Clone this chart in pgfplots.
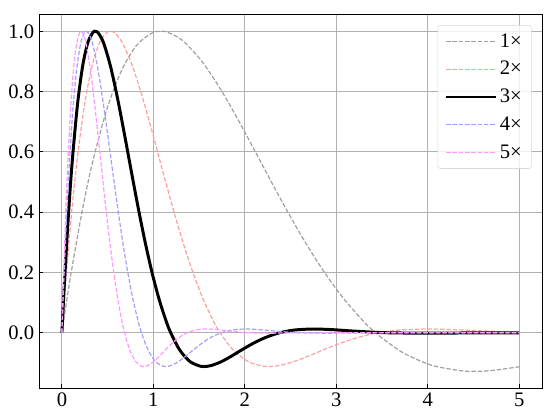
\documentclass[border=0pt]{standalone}
\usepackage{fontspec}
\setmainfont{Liberation Serif}
\usepackage{pgfplots}
\pgfplotsset{compat=1.18}
\definecolor{cgray}{HTML}{A0A0A0}
\definecolor{cred}{HTML}{FFA0A0}
\definecolor{cblue}{HTML}{A0A0FF}
\definecolor{cmag}{HTML}{FF99FF}
\definecolor{gridc}{HTML}{B0B0B0}
\begin{document}
\begin{tikzpicture}
\begin{axis}[
  name=ax, scale only axis, width=365.8pt, height=272pt,
  xmin=-0.25, xmax=5.25, ymin=-0.1842, ymax=1.0564,
  xtick={0,1,2,3,4,5}, ytick={0,0.2,0.4,0.6,0.8,1.0},
  yticklabel style={/pgf/number format/.cd, fixed, fixed zerofill, precision=1},
  /pgf/number format/assume math mode=true,
  tick align=inside, tick pos=left, major tick length=3pt,
  tick style={black, line width=0.6pt},
  grid=major, grid style={gridc, line width=0.6pt},
  axis line style={line width=0.6pt},
  ticklabel style={font=\fontsize{15}{17}\selectfont},
  legend cell align=left,
  legend style={at={(1,1)}, xshift=-7.5pt, yshift=-7.8pt, anchor=north east,
    draw=black!15, rounded corners=2pt, fill=white, fill opacity=0.8, text opacity=1,
    font=\fontsize{15}{17}\selectfont, row sep=4.8pt, inner xsep=5pt, inner ysep=4pt},
  legend image code/.code={\draw[#1] (0pt,0pt) -- (29pt,0pt); \path (0pt,0pt) -- (36pt,0pt);},
  every axis plot/.append style={smooth, tension=0.5},
]
\addplot[cgray, line width=0.87pt, dash pattern=on 3.2pt off 1.4pt] coordinates {
(0,0) (0.0546,0.1107) (0.1092,0.2139) (0.2184,0.3987) (0.3275,0.5555) (0.4913,0.7411) (0.6551,0.8720) (0.8189,0.9542) (0.9826,0.9939) (1.0820,1.0) (1.1464,0.9976) (1.3102,0.9716) (1.5285,0.9011) (1.7469,0.8018) (1.9652,0.6853) (2.1836,0.5613) (2.4020,0.4378) (2.6203,0.3209) (2.8387,0.2148) (3.0570,0.1225) (3.2754,0.0453) (3.43,0) (3.7121,-0.0631) (4.0397,-0.1074) (4.3672,-0.1260) (4.5124,-0.1278) (4.6947,-0.1253) (5.0,-0.1129)
};
\addlegendentry{1×}
\addplot[cred, line width=0.87pt, dash pattern=on 3.2pt off 1.4pt] coordinates {
(0,0) (0.0275,0.1150) (0.0551,0.2219) (0.1101,0.4119) (0.1652,0.5714) (0.2478,0.7576) (0.3304,0.8858) (0.4130,0.9632) (0.4956,0.9970) (0.5298,1.0) (0.5782,0.9944) (0.6608,0.9624) (0.7710,0.8851) (0.8811,0.7810) (0.9912,0.6619) (1.1014,0.5376) (1.2115,0.4158) (1.3216,0.3022) (1.4318,0.2006) (1.5419,0.1134) (1.6520,0.0416) (1.73,0) (1.8723,-0.0569) (2.0375,-0.0958) (2.2027,-0.1110) (2.2600,-0.1120) (2.3679,-0.1090) (2.5331,-0.0959) (2.6983,-0.0770) (2.8635,-0.0561) (3.0287,-0.0364) (3.1939,-0.0194) (3.3591,-0.0062) (3.46,0) (3.6896,0.0090) (3.9897,0.0125) (4.2953,0.0104) (4.6257,0.0058) (4.9561,0.0019) (5,0.0015)
};
\addlegendentry{2×}
\addplot[black, line width=2.16pt] coordinates {
(0,0) (0.0189,0.1150) (0.0379,0.2219) (0.0758,0.4119) (0.1136,0.5714) (0.1705,0.7576) (0.2273,0.8858) (0.2841,0.9632) (0.3409,0.9970) (0.3644,1.0) (0.3977,0.9944) (0.4545,0.9624) (0.5303,0.8851) (0.6061,0.7810) (0.6818,0.6619) (0.7576,0.5376) (0.8333,0.4158) (0.9091,0.3022) (0.9849,0.2006) (1.0606,0.1134) (1.1364,0.0416) (1.19,0) (1.2879,-0.0569) (1.4015,-0.0958) (1.5152,-0.1110) (1.5545,-0.1120) (1.6288,-0.1090) (1.7424,-0.0959) (1.8561,-0.0770) (1.9697,-0.0561) (2.0833,-0.0364) (2.1970,-0.0194) (2.3106,-0.0062) (2.38,0) (2.5379,0.0090) (2.7443,0.0125) (2.9546,0.0104) (3.1818,0.0058) (3.4091,0.0019) (3.5701,0) (3.9773,-0.0014) (4.5455,-0.0003) (5,0)
};
\addlegendentry{3×}
\addplot[cblue, line width=0.87pt, dash pattern=on 3.2pt off 1.4pt] coordinates {
(0,0) (0.0138,0.1150) (0.0277,0.2219) (0.0554,0.4119) (0.0831,0.5714) (0.1246,0.7576) (0.1662,0.8858) (0.2077,0.9632) (0.2492,0.9970) (0.2664,1.0) (0.2908,0.9944) (0.3323,0.9624) (0.3877,0.8851) (0.4431,0.7810) (0.4985,0.6619) (0.5539,0.5376) (0.6092,0.4158) (0.6646,0.3022) (0.7200,0.2006) (0.7754,0.1134) (0.8308,0.0416) (0.87,0) (0.9416,-0.0569) (1.0246,-0.0958) (1.1077,-0.1110) (1.1365,-0.1120) (1.1908,-0.1090) (1.2739,-0.0959) (1.3570,-0.0770) (1.4400,-0.0561) (1.5231,-0.0364) (1.6062,-0.0194) (1.6893,-0.0062) (1.74,0) (1.8554,0.0090) (2.0064,0.0125) (2.1601,0.0104) (2.3262,0.0058) (2.4924,0.0019) (2.61,0) (2.9078,-0.0014) (3.3232,-0.0003) (5,0)
};
\addlegendentry{4×}
\addplot[cmag, line width=0.87pt, dash pattern=on 3.2pt off 1.4pt] coordinates {
(0,0) (0.0109,0.1150) (0.0218,0.2219) (0.0436,0.4119) (0.0654,0.5714) (0.0981,0.7576) (0.1308,0.8858) (0.1635,0.9632) (0.1962,0.9970) (0.2098,1.0) (0.2289,0.9944) (0.2616,0.9624) (0.3053,0.8851) (0.3489,0.7810) (0.3925,0.6619) (0.4361,0.5376) (0.4797,0.4158) (0.5233,0.3022) (0.5669,0.2006) (0.6105,0.1134) (0.6541,0.0416) (0.685,0) (0.7413,-0.0569) (0.8067,-0.0958) (0.8722,-0.1110) (0.8948,-0.1120) (0.9376,-0.1090) (1.0030,-0.0959) (1.0684,-0.0770) (1.1338,-0.0561) (1.1992,-0.0364) (1.2646,-0.0194) (1.3300,-0.0062) (1.37,0) (1.4609,0.0090) (1.5797,0.0125) (1.7007,0.0104) (1.8315,0.0058) (1.9624,0.0019) (2.055,0) (2.2894,-0.0014) (2.6165,-0.0003) (5,0)
};
\addlegendentry{5×}
\end{axis}
\pgfresetboundingbox
\path ([shift={(-28.4pt,-20.9pt)}]ax.south west) rectangle ([shift={(5.8pt,10.4pt)}]ax.north east);
\end{tikzpicture}
\end{document}
